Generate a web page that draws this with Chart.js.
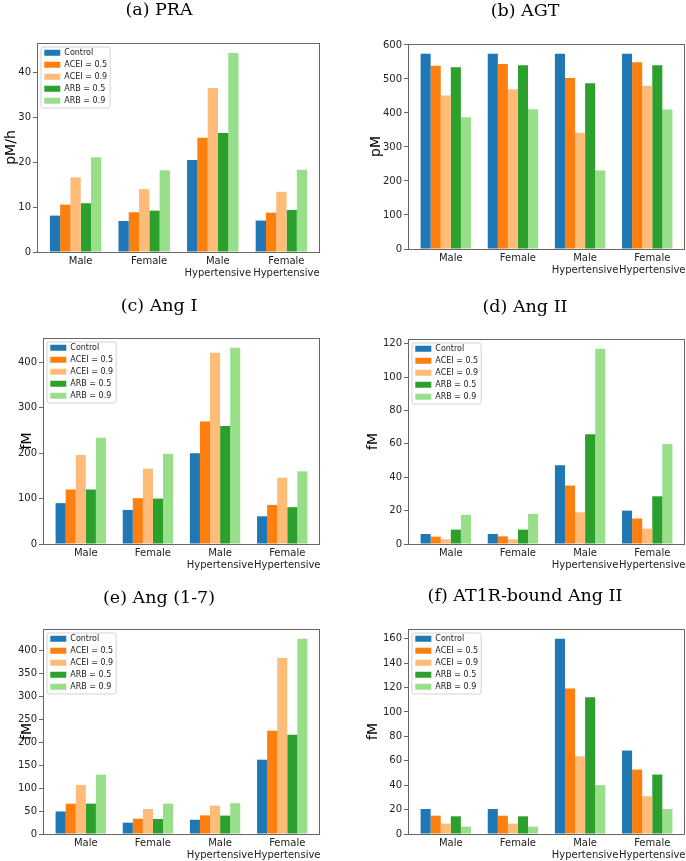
<!DOCTYPE html>
<html>
<head>
<meta charset="utf-8">
<script src="https://cdn.jsdelivr.net/npm/chart.js@4/dist/chart.umd.min.js"></script>
<style>
html,body{margin:0;padding:0;background:#fff;}
body{width:686px;height:861px;position:relative;overflow:hidden;}
canvas{position:absolute;}
</style>
</head>
<body>
<script>
// ---------------- data ----------------
const categories = ['Male', 'Female', 'Male\nHypertensive', 'Female\nHypertensive'];
const seriesLabels = ['Control', 'ACEI = 0.5', 'ACEI = 0.9', 'ARB = 0.5', 'ARB = 0.9'];

// rows follow seriesLabels, columns follow categories
const praValues = [
  [8.1, 6.9, 20.5, 7.0],
  [10.55, 8.85, 25.4, 8.75],
  [16.6, 14.0, 36.5, 13.4],
  [10.85, 9.2, 26.5, 9.35],
  [21.1, 18.2, 44.3, 18.3]
];
const praTicks = [0, 10, 20, 30, 40];

const agtValues = [
  [574, 574, 574, 574],
  [539, 544, 503, 549],
  [451, 470, 342, 480],
  [534, 540, 487, 540],
  [387, 411, 231, 410]
];
const agtTicks = [0, 100, 200, 300, 400, 500, 600];

const angIValues = [
  [90, 75, 200, 61],
  [120, 101, 270, 86],
  [196, 166, 421, 146],
  [120, 100, 260, 81],
  [234, 199, 432, 160]
];
const angITicks = [0, 100, 200, 300, 400];

const angIIValues = [
  [6.0, 6.0, 47.2, 20.0],
  [4.4, 4.6, 35.0, 15.3],
  [2.8, 2.8, 19.0, 9.2],
  [8.6, 8.6, 65.8, 28.6],
  [17.5, 18.0, 117, 60]
];
const angIITicks = [0, 20, 40, 60, 80, 100, 120];

const ang17Values = [
  [49, 24.6, 31, 161.6],
  [66, 33.3, 40.5, 224.6],
  [106.5, 54.3, 61.6, 382.6],
  [66, 32.6, 40, 216],
  [129, 66, 67, 424.6]
];
const ang17Ticks = [0, 50, 100, 150, 200, 250, 300, 350, 400];

const at1rValues = [
  [20.5, 20.5, 160, 68.4],
  [15.0, 15.0, 119.3, 52.8],
  [8.5, 8.5, 63.7, 30.9],
  [14.5, 14.5, 112, 48.7],
  [6.0, 6.0, 40, 20.5]
];
const at1rTicks = [0, 20, 40, 60, 80, 100, 120, 140, 160];

// ---------------- styles / layout ----------------
const seriesColors = ['#1f77b4', '#ff7f0e', '#ffbb78', '#2ca02c', '#98df8a'];
const spineColor = '#666';
const textColor = '#222';

const panels = [
  {title: '(a) PRA', unit: 'pM/h', values: praValues, ticks: praTicks, legend: true,
   left: -2, top: 0, width: 322, chartTop: 43, chartBottom: 252, yw: 39, ytp: 4.6},
  {title: '(b) AGT', unit: 'pM', values: agtValues, ticks: agtTicks, legend: false,
   left: 365, top: 1, width: 320, chartTop: 44, chartBottom: 249, yw: 43, ytp: 2.6},
  {title: '(c) Ang I', unit: 'fM', values: angIValues, ticks: angITicks, legend: true,
   left: -2, top: 296, width: 322, chartTop: 338, chartBottom: 544, yw: 45, ytp: 20.6},
  {title: '(d) Ang II', unit: 'fM', values: angIIValues, ticks: angIITicks, legend: true,
   left: 365, top: 297, width: 320, chartTop: 339, chartBottom: 544, yw: 43, ytp: 0},
  {title: '(e) Ang (1-7)', unit: 'fM', values: ang17Values, ticks: ang17Ticks, legend: true,
   left: -2, top: 588, width: 322, chartTop: 629, chartBottom: 834, yw: 45, ytp: 20.6},
  {title: '(f) AT1R-bound Ang II', unit: 'fM', values: at1rValues, ticks: at1rTicks, legend: true,
   left: 365, top: 586, width: 320, chartTop: 629, chartBottom: 834, yw: 43, ytp: 0}
];

const TITLE_SIZE = 17.5, TITLE_LH = 1.2, XAXIS_H = 40;

// legend placed inside the axes (upper left) with a matplotlib-like frame
const legendInside = {
  id: 'legendInside',
  afterLayout(chart) {
    const lg = chart.legend;
    if (!lg || !lg.options.display) return;
    const a = chart.chartArea;
    lg.left = a.left + 3.3;
    lg.top = a.top + 1.7;
    lg.right = lg.left + lg.width;
    lg.bottom = a.bottom;
  },
  beforeDraw(chart) {
    const lg = chart.legend;
    if (!lg || !lg.options.display || !lg.legendItems) return;
    const ctx = chart.ctx;
    const lab = lg.options.labels;
    const fs = lab.font.size, pad = lab.padding;
    ctx.save();
    ctx.font = fs + 'px "DejaVu Sans"';
    let maxW = 0;
    lg.legendItems.forEach(it => { maxW = Math.max(maxW, ctx.measureText(it.text).width); });
    const n = lg.legendItems.length;
    const x0 = lg.left + pad - 3.3;
    const y0 = lg.top + pad + fs / 2 - 5.7;
    const x1 = lg.left + pad + lab.boxWidth + fs / 2 + maxW + 3;
    const y1 = lg.top + pad + (n - 1) * (fs + pad) + fs / 2 + 7.3;
    const r = 2;
    ctx.beginPath();
    ctx.moveTo(x0 + r, y0);
    ctx.lineTo(x1 - r, y0); ctx.quadraticCurveTo(x1, y0, x1, y0 + r);
    ctx.lineTo(x1, y1 - r); ctx.quadraticCurveTo(x1, y1, x1 - r, y1);
    ctx.lineTo(x0 + r, y1); ctx.quadraticCurveTo(x0, y1, x0, y1 - r);
    ctx.lineTo(x0, y0 + r); ctx.quadraticCurveTo(x0, y0, x0 + r, y0);
    ctx.closePath();
    ctx.fillStyle = 'rgba(255,255,255,0.8)';
    ctx.fill();
    ctx.strokeStyle = '#d4d4d4';
    ctx.lineWidth = 1;
    ctx.stroke();
    ctx.restore();
  }
};

// four-sided axes frame drawn above the bars
const axesFrame = {
  id: 'axesFrame',
  afterDatasetsDraw(chart) {
    const a = chart.chartArea, ctx = chart.ctx;
    const L = Math.round(a.left), R = Math.round(a.right), T = Math.round(a.top), B = Math.round(a.bottom);
    ctx.save();
    ctx.strokeStyle = spineColor;
    ctx.lineWidth = 1;
    ctx.strokeRect(L + 0.5, T + 0.5, R - L - 1, B - T);
    ctx.restore();
  }
};

Chart.defaults.font.family = '"DejaVu Sans"';

panels.forEach((p) => {
  const cv = document.createElement('canvas');
  const h = p.chartBottom - p.top + XAXIS_H;
  cv.width = p.width;
  cv.height = h;
  cv.style.left = p.left + 'px';
  cv.style.top = p.top + 'px';
  cv.style.width = p.width + 'px';
  cv.style.height = h + 'px';
  document.body.appendChild(cv);

  let maxVal = 0;
  p.values.forEach(row => row.forEach(v => { maxVal = Math.max(maxVal, v); }));
  const yMax = maxVal * 1.05;

  const titleBottomPad = (p.chartTop - p.top) - TITLE_SIZE * TITLE_LH;

  new Chart(cv, {
    type: 'bar',
    data: {
      datasets: seriesLabels.map((lab, s) => ({
        label: lab,
        data: p.values[s].map((v, i) => ({x: i, y: v})),
        backgroundColor: seriesColors[s],
        borderWidth: 0,
        categoryPercentage: 0.75,
        barPercentage: 1.0
      }))
    },
    options: {
      responsive: false,
      animation: false,
      events: [],
      layout: {padding: 0},
      plugins: {
        title: {
          display: true,
          text: p.title,
          color: '#000',
          font: {family: '"DejaVu Serif"', size: TITLE_SIZE, weight: 'normal', lineHeight: TITLE_LH},
          padding: {top: 0, bottom: titleBottomPad}
        },
        legend: {
          display: p.legend,
          position: 'chartArea',
          align: 'start',
          fullSize: false,
          labels: {
            boxWidth: 16, boxHeight: 6, padding: 4,
            color: textColor,
            font: {family: '"DejaVu Sans"', size: 8}
          }
        },
        tooltip: {enabled: false}
      },
      scales: {
        x: {
          type: 'linear',
          min: -0.5625, max: 3.5625,
          bounds: 'data',
          offset: false,
          grid: {display: false, drawTicks: false},
          border: {display: true, color: spineColor, width: 1},
          afterBuildTicks: s => { s.ticks = categories.map((c, i) => ({value: i})); },
          afterFit: s => { s.height = XAXIS_H; },
          ticks: {
            autoSkip: false, maxRotation: 0, minRotation: 0,
            padding: 4, labelOffset: 5,
            color: textColor,
            font: {family: '"DejaVu Sans"', size: 10, lineHeight: 1.15},
            callback: v => categories[Math.round(v)].split('\n')
          }
        },
        y: {
          type: 'linear',
          min: 0, max: yMax,
          bounds: 'data',
          grid: {drawOnChartArea: false, drawTicks: true, tickLength: 4, tickColor: spineColor, tickWidth: 1},
          border: {display: true, color: spineColor, width: 1},
          afterBuildTicks: s => { s.ticks = p.ticks.map(v => ({value: v})); },
          afterFit: s => { s.width = p.yw; },
          ticks: {
            padding: 2,
            color: textColor,
            font: {family: '"DejaVu Sans"', size: 10}
          },
          title: {
            display: true,
            text: p.unit,
            color: '#000',
            font: {family: '"DejaVu Sans"', size: 14, lineHeight: 1.2},
            padding: {top: p.ytp, bottom: 0}
          }
        }
      }
    },
    plugins: [legendInside, axesFrame]
  });
});
</script>
</body>
</html>
